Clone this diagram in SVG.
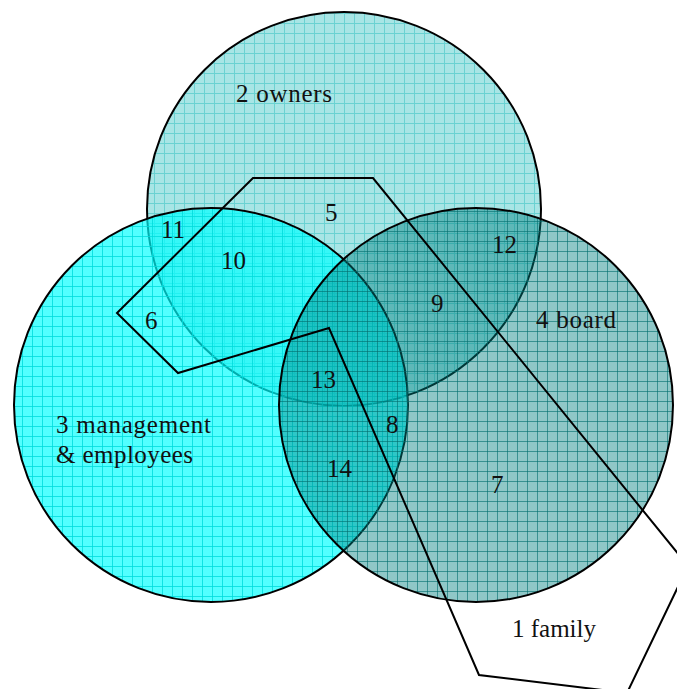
<svg xmlns="http://www.w3.org/2000/svg" width="677" height="689" viewBox="0 0 677 689">
  <style>
    .ring { stroke: #000; stroke-width: 2; }
    .family { fill: none; stroke: #000; stroke-width: 2; stroke-linejoin: miter; }
    text { font-family: "Liberation Serif", "Times New Roman", serif; font-size: 25px; fill: #111; }
  </style>
  <defs>
    <!-- hatched grid fills, one per group -->
    <pattern id="gridOwners" patternUnits="userSpaceOnUse" x="4" y="3" width="10" height="10">
      <rect width="10" height="10" fill="#a8e5e5"/>
      <path d="M0 0.5H10M0.5 0V10" stroke="#6ad2d2" stroke-width="1"/>
    </pattern>
    <pattern id="gridMgmt" patternUnits="userSpaceOnUse" x="2" y="6" width="10" height="10">
      <rect width="10" height="10" fill="#00ffff" fill-opacity="0.68"/>
      <path d="M0 0.5H10M0.5 0V10" stroke="#00dcdc" stroke-opacity="0.8" stroke-width="1"/>
    </pattern>
    <pattern id="gridBoard" patternUnits="userSpaceOnUse" x="7" y="1" width="10" height="10">
      <rect width="10" height="10" fill="#008080" fill-opacity="0.44"/>
      <path d="M0 0.5H10M0.5 0V10" stroke="#006e6e" stroke-opacity="0.6" stroke-width="1"/>
    </pattern>
  </defs>

  <rect width="677" height="689" fill="#fff"/>

  <g id="owners">
    <circle class="ring" cx="344" cy="209" r="197" fill="url(#gridOwners)"/>
  </g>
  <g id="management">
    <circle class="ring" cx="211" cy="405" r="197" fill="url(#gridMgmt)"/>
  </g>
  <g id="board">
    <circle class="ring" cx="476" cy="405" r="197" fill="url(#gridBoard)"/>
  </g>
  <g id="family">
    <polygon class="family" points="253,178 373,178 688,566 627,693 479,675 329,328 178,373 117,313"/>
  </g>

  <g id="labels">
    <text x="236" y="102" textLength="96">2 owners</text>
    <text x="536" y="328" textLength="80">4 board</text>
    <text x="56" y="433" textLength="155">3 management</text>
    <text x="56" y="463" textLength="137">&amp; employees</text>
    <text x="512" y="637" textLength="84">1 family</text>

    <text x="325" y="221">5</text>
    <text x="161" y="238">11</text>
    <text x="221" y="269">10</text>
    <text x="492" y="253">12</text>
    <text x="431" y="312">9</text>
    <text x="145" y="329">6</text>
    <text x="311" y="388">13</text>
    <text x="386" y="433">8</text>
    <text x="327" y="477">14</text>
    <text x="491" y="493">7</text>
  </g>
</svg>
